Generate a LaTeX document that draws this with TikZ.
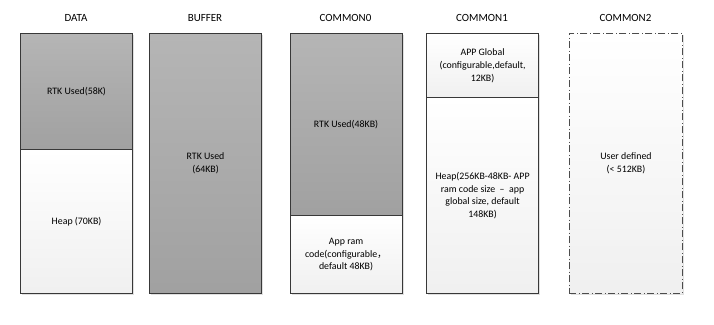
\documentclass[tikz,border=0pt]{standalone}
\usepackage{fontspec}
\setmainfont{Carlito}
\newfontfamily\cjk{Noto Sans CJK SC}
\usetikzlibrary{shadows}
\begin{document}
\begin{tikzpicture}[x=1bp,y=-1bp,
  seg/.style={draw=black!78, line width=1.1bp, minimum width=112bp, inner sep=0pt,
    align=center, anchor=north west, font=\fontsize{9.9}{12.8}\selectfont,
    drop shadow={shadow xshift=1.5bp, shadow yshift=-1.5bp, fill=black!12, opacity=1}},
  used/.style={seg, top color=black!29, bottom color=black!37},
  free/.style={seg, top color=white, bottom color=black!6},
  userdef/.style={free, draw=black!70, line width=0.9bp,
    dash pattern=on 7bp off 2.5bp on 1bp off 2.5bp},
  title/.style={font=\fontsize{11}{13}\selectfont, anchor=center}]
\useasboundingbox (0,0) rectangle (714,324);

% column titles
\node[title] (tdata) at (76,18) {DATA};
\node[title] (tbuf)  at (205,18) {BUFFER};
\node[title] (tc0)   at (345.5,18) {COMMON0};
\node[title] (tc1)   at (482,18) {COMMON1};
\node[title] (tc2)   at (625.5,18) {COMMON2};

% DATA
\node[used, minimum height=116bp] (datartk) at (20,33) {RTK Used(58K)};
\node[free, minimum height=144bp] (dataheap) at (20,149) {Heap (70KB)};

% BUFFER
\node[used, minimum height=260bp] (bufrtk) at (149,33) {RTK Used\\(64KB)};

% COMMON0
\node[used, minimum height=182bp] (c0rtk) at (289.5,33) {RTK Used(48KB)};
\node[free, minimum height=78bp] (c0code) at (289.5,215)
  {App ram\\code(configurable{\cjk ，}\\default 48KB)};

% COMMON1
\node[free, minimum height=64bp] (c1glob) at (426,33)
  {APP Global\\(configurable,default,\\12KB)};
\node[free, minimum height=196bp] (c1heap) at (426,97)
  {Heap(256KB-48KB- APP\\ram code size \ – \ app\\global size, default\\148KB)};

% COMMON2
\node[userdef, minimum height=260bp, minimum width=113bp] (c2user) at (569,33)
  {User defined\\(< 512KB)};
\end{tikzpicture}
\end{document}
